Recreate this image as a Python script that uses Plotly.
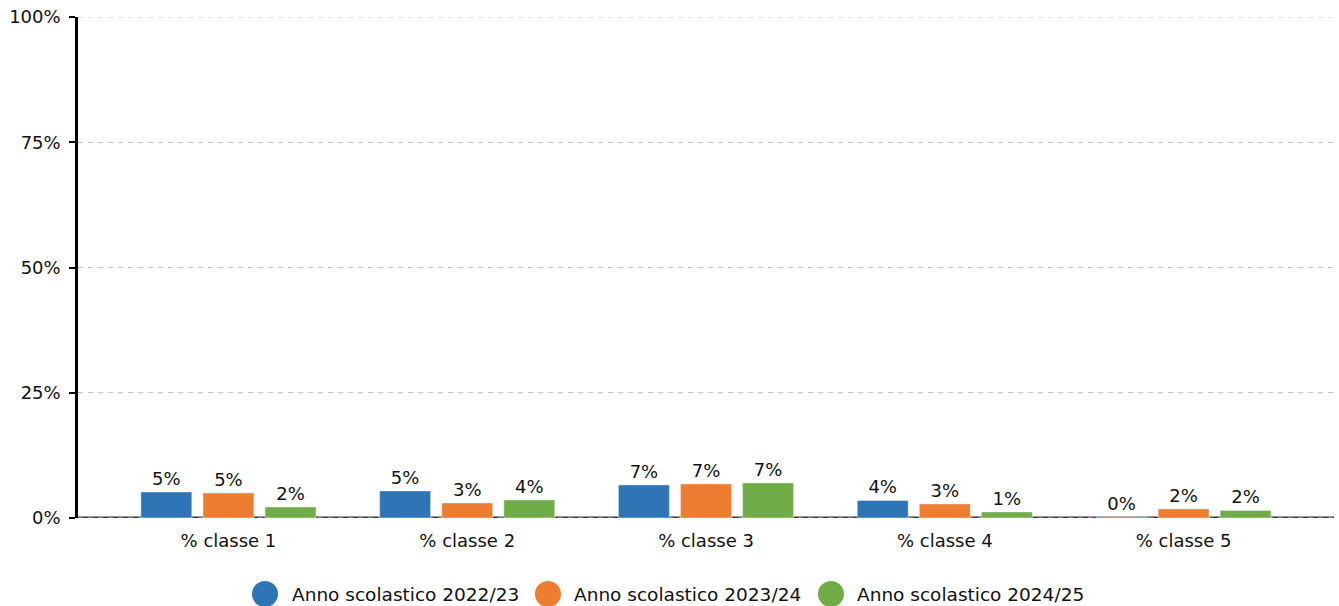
import plotly.graph_objects as go

categories = ["% classe 1", "% classe 2", "% classe 3", "% classe 4", "% classe 5"]
series_names = ["Anno scolastico 2022/23", "Anno scolastico 2023/24", "Anno scolastico 2024/25"]
values_2022 = [0.052, 0.054, 0.066, 0.035, 0.002]
values_2023 = [0.050, 0.030, 0.068, 0.028, 0.018]
values_2024 = [0.022, 0.036, 0.070, 0.012, 0.015]
colors = ["#2E75B6", "#ED7D31", "#70AD47"]
y_ticks = [0, 0.25, 0.5, 0.75, 1.0]

FONT = "DejaVu Sans"
W, H = 1339, 606
L, R, T, B = 78, 5, 17, 88

fig = go.Figure()
for name, vals, col in zip(series_names, [values_2022, values_2023, values_2024], colors):
    fig.add_trace(go.Bar(
        x=categories, y=vals, name=name, marker_color=col,
        text=[f"{v*100:.0f}%" for v in vals], textposition="outside",
        textfont=dict(family=FONT, size=18, color="#111"),
        cliponaxis=False, showlegend=False,
    ))

# manual legend (big circles)
pw = W - L - R
ph = H - T - B
def px_to_paper(px, py):
    return (px - L) / pw, (H - B - py) / ph

legend_items = [(265, 290), (548, 572), (831, 855)]
shapes = []
annotations = []
for (cx, tx), name, col in zip(legend_items, series_names, colors):
    x0, y0 = px_to_paper(cx - 13, 594 + 13)
    x1, y1 = px_to_paper(cx + 13, 594 - 13)
    shapes.append(dict(type="circle", xref="paper", yref="paper", x0=x0, x1=x1, y0=y0, y1=y1,
                       fillcolor=col, line=dict(width=0)))
    ax, ay = px_to_paper(tx, 594)
    annotations.append(dict(xref="paper", yref="paper", x=ax, y=ay, xanchor="left", yanchor="middle",
                            text=name, showarrow=False, font=dict(family=FONT, size=18.5, color="#111")))

GRID = "#C4C4C4"
DASH = "5px,5px"
# dark baseline with dashed grid over it, and top dashed grid line
shapes.append(dict(type="line", xref="paper", yref="y", x0=0, x1=1, y0=0, y1=0,
                   line=dict(color="#333333", width=3), layer="below"))
shapes.append(dict(type="line", xref="paper", yref="y", x0=0, x1=1, y0=0, y1=0,
                   line=dict(color=GRID, width=1, dash=DASH), layer="below"))
shapes.append(dict(type="line", xref="paper", yref="y", x0=0, x1=1, y0=1, y1=1,
                   line=dict(color=GRID, width=1, dash=DASH), layer="below"))

fig.update_layout(
    width=W, height=H,
    margin=dict(l=L, r=R, t=T, b=B),
    paper_bgcolor="white", plot_bgcolor="white",
    barmode="group", bargap=0.22, bargroupgap=0.18,
    showlegend=False,
    font=dict(family=FONT, size=18, color="#111"),
    shapes=shapes, annotations=annotations,
    xaxis=dict(range=[-0.63, 4.63], showgrid=False, zeroline=False, showline=False,
               ticks="outside", ticklen=6, tickcolor="rgba(0,0,0,0)",
               tickfont=dict(family=FONT, size=18, color="#111")),
    yaxis=dict(range=[0, 1], tickvals=y_ticks, tickformat=".0%",
               showgrid=True, gridcolor=GRID, griddash=DASH, gridwidth=1,
               zeroline=False, showline=True, linecolor="black", linewidth=2.5,
               ticks="outside", ticklen=6, tickcolor="black", tickwidth=2,
               ticklabelstandoff=5,
               tickfont=dict(family=FONT, size=18, color="#111")),
)

fig.write_html("out.html", config={"displayModeBar": False},
               post_script="document.body.style.margin='0';document.body.style.overflow='hidden';")
